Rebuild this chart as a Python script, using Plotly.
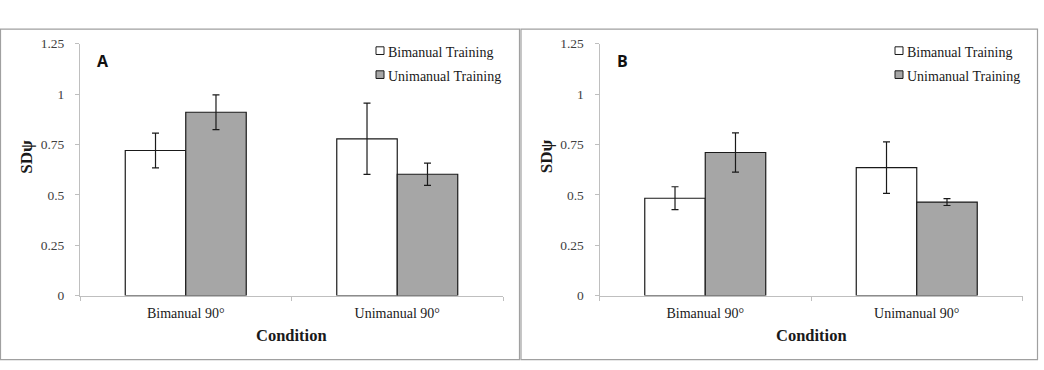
import plotly.graph_objects as go

W, H = 1044, 370

conditions = ["Bimanual 90°", "Unimanual 90°"]
series_names = ["Bimanual Training", "Unimanual Training"]

a_bimanual = [0.72, 0.778]
a_bimanual_err = [0.086, 0.177]
a_unimanual = [0.91, 0.602]
a_unimanual_err = [0.086, 0.055]

b_bimanual = [0.483, 0.635]
b_bimanual_err = [0.057, 0.128]
b_unimanual = [0.71, 0.464]
b_unimanual_err = [0.097, 0.017]

y_tickvals = [0, 0.25, 0.5, 0.75, 1, 1.25]
y_ticktext = ["0", "0.25", "0.5", "0.75", "1", "1.25"]

panel_labels = ["A", "B"]

FILL = {"Bimanual Training": "#ffffff", "Unimanual Training": "#a6a6a6"}
EDGE = "#1a1a1a"
AXIS = "#bfbfbf"
TICKTXT = "#404040"
TXT = "#1a1a1a"
SERIF = "Liberation Serif, Times New Roman, serif"


def px(x):
    return x / W


def py(y):
    return 1 - y / H


fig = go.Figure()

panels = [
    ("x", "y", [(a_bimanual, a_bimanual_err), (a_unimanual, a_unimanual_err)]),
    ("x2", "y2", [(b_bimanual, b_bimanual_err), (b_unimanual, b_unimanual_err)]),
]

for xa, ya, data in panels:
    for name, (vals, errs) in zip(series_names, data):
        fig.add_trace(go.Bar(
            x=conditions, y=vals, name=name, xaxis=xa, yaxis=ya,
            marker=dict(color=FILL[name], line=dict(color=EDGE, width=1.2)),
            error_y=dict(type="data", array=errs, visible=True,
                         color=EDGE, thickness=1.2, width=3.5),
            showlegend=False,
        ))

# panel geometry (pixels)
x_dom = [(80, 503), (599.5, 1022.5)]
y0_px, y1_px = 300.7, 38.3

axis_common = dict(showgrid=False, zeroline=False, showline=True,
                   linecolor=AXIS, linewidth=1, ticks="outside",
                   tickcolor=AXIS, ticklen=4, tickwidth=1)

layout = dict(
    width=W, height=H,
    margin=dict(l=0, r=0, t=0, b=0),
    paper_bgcolor="white", plot_bgcolor="white",
    barmode="group", bargap=0.428, bargroupgap=0,
    showlegend=False,
)
for i, (xa, ya) in enumerate([("xaxis", "yaxis"), ("xaxis2", "yaxis2")]):
    layout[xa] = dict(
        domain=[px(x_dom[i][0]), px(x_dom[i][1])],
        anchor="y" if i == 0 else "y2",
        type="category", range=[-0.5, 1.5], tickson="boundaries",
        tickfont=dict(family=SERIF, size=14, color=TXT),
        ticklabelstandoff=5,
        **axis_common,
    )
    layout[ya] = dict(
        domain=[py(y0_px), py(y1_px)],
        anchor="x" if i == 0 else "x2",
        range=[0, 1.25], tickvals=y_tickvals, ticktext=y_ticktext,
        tickfont=dict(family=SERIF, size=13.5, color=TICKTXT),
        ticklabelstandoff=8,
        **axis_common,
    )
fig.update_layout(**layout)

shapes = []
annotations = []
frames = [(0.5, 519.5), (521, 1037.5)]
for i in range(2):
    fx0, fx1 = frames[i]
    shapes.append(dict(type="rect", xref="paper", yref="paper",
                       x0=px(fx0), x1=px(fx1), y0=py(367.5), y1=py(23),
                       line=dict(color="#a0a0a0", width=1.2), fillcolor="rgba(0,0,0,0)"))
    off = 0 if i == 0 else 519.5
    cx = (x_dom[i][0] + x_dom[i][1]) / 2
    # axis titles
    annotations.append(dict(text="<b>Condition</b>", xref="paper", yref="paper",
                            x=px(cx), y=py(342), showarrow=False,
                            xanchor="center", yanchor="middle",
                            font=dict(family=SERIF, size=16.5, color=TXT)))
    annotations.append(dict(text="<b>SDψ</b>", xref="paper", yref="paper",
                            x=px(27 + off), y=py(156), showarrow=False, textangle=-90,
                            xanchor="center", yanchor="middle",
                            font=dict(family=SERIF, size=17, color=TXT)))
    # panel letter
    annotations.append(dict(text="<b>%s</b>" % panel_labels[i], xref="paper", yref="paper",
                            x=px(103 + off), y=py(56), showarrow=False,
                            xanchor="center", yanchor="middle",
                            font=dict(family="Open Sans, Liberation Sans, sans-serif", size=16, color="#111")))
    # legend
    lx = 376 if i == 0 else 895
    for j, name in enumerate(series_names):
        cy = 45.5 + j * 25
        shapes.append(dict(type="rect", xref="paper", yref="paper",
                           x0=px(lx), x1=px(lx + 8), y0=py(cy + 4), y1=py(cy - 4),
                           fillcolor=FILL[name], line=dict(color=EDGE, width=1)))
        annotations.append(dict(text=name, xref="paper", yref="paper",
                                x=px(lx + 10), y=py(cy + 1.5), showarrow=False,
                                xanchor="left", yanchor="middle",
                                font=dict(family=SERIF, size=14, color=TXT)))

fig.update_layout(shapes=shapes, annotations=annotations)
fig.write_html("out.html")
